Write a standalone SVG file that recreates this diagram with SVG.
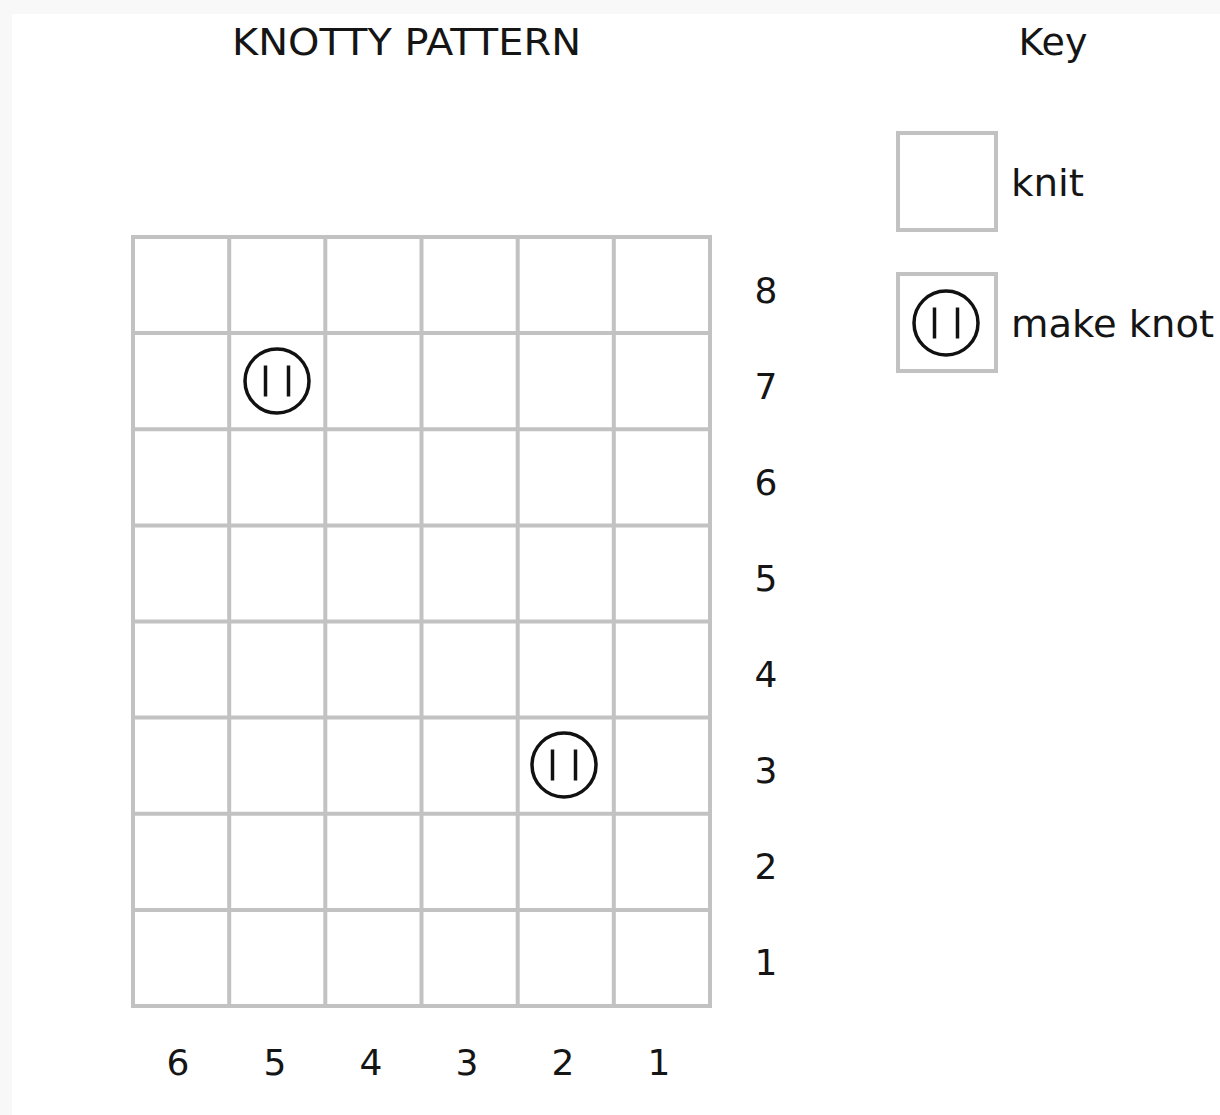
<svg xmlns="http://www.w3.org/2000/svg" width="1220" height="1115" viewBox="0 0 1220 1115">
<style>
.cell{fill:none;stroke:#c2c2c2;stroke-width:4}
.knot{fill:none;stroke:#111;stroke-width:3.5}
.t{font-family:"DejaVu Sans","Liberation Sans",sans-serif;font-size:36px;fill:#151515}
.w{font-size:38px}
.m{text-anchor:middle}
</style>
<defs>
<g id="knotsym">
<circle class="knot" cx="0" cy="0" r="32"/>
<line class="knot" x1="-11.5" y1="-15.5" x2="-11.5" y2="15.5"/>
<line class="knot" x1="11.5" y1="-15.5" x2="11.5" y2="15.5"/>
</g>
</defs>
<rect x="0" y="0" width="1220" height="1115" fill="#ffffff"/>
<rect x="0" y="0" width="1220" height="14" fill="#f8f8f8"/>
<rect x="0" y="0" width="12" height="1115" fill="#f8f8f8"/>
<text class="t w" x="232" y="55" textLength="349" lengthAdjust="spacingAndGlyphs">KNOTTY PATTERN</text>
<text class="t w m" x="1053" y="55">Key</text>
<g id="grid">
<rect class="cell" x="133" y="237" width="577" height="769"/>
<path class="cell" d="M229.2 237V1006M325.3 237V1006M421.5 237V1006M517.7 237V1006M613.8 237V1006M133 333.1H710M133 429.3H710M133 525.4H710M133 621.5H710M133 717.6H710M133 813.8H710M133 909.9H710"/>
</g>
<g id="knot-r7-c5"><use href="#knotsym" x="277" y="381"/></g>
<g id="knot-r3-c2"><use href="#knotsym" x="564" y="765"/></g>
<g id="row-labels">
<text class="t m" x="766" y="303">8</text>
<text class="t m" x="766" y="399">7</text>
<text class="t m" x="766" y="495">6</text>
<text class="t m" x="766" y="591">5</text>
<text class="t m" x="766" y="687">4</text>
<text class="t m" x="766" y="783">3</text>
<text class="t m" x="766" y="879">2</text>
<text class="t m" x="766" y="975">1</text>
</g>
<g id="col-labels">
<text class="t m" x="178" y="1075">6</text>
<text class="t m" x="275" y="1075">5</text>
<text class="t m" x="371" y="1075">4</text>
<text class="t m" x="467" y="1075">3</text>
<text class="t m" x="563" y="1075">2</text>
<text class="t m" x="659" y="1075">1</text>
</g>
<g id="key-knit">
<rect class="cell" x="898" y="133" width="98" height="97"/>
<text class="t w" x="1011" y="196" textLength="73" lengthAdjust="spacingAndGlyphs">knit</text>
</g>
<g id="key-make-knot">
<rect class="cell" x="898" y="274" width="98" height="97"/>
<use href="#knotsym" x="946" y="323"/>
<text class="t w" x="1011" y="337" textLength="203" lengthAdjust="spacingAndGlyphs">make knot</text>
</g>
<g id="connectors"></g>
</svg>
